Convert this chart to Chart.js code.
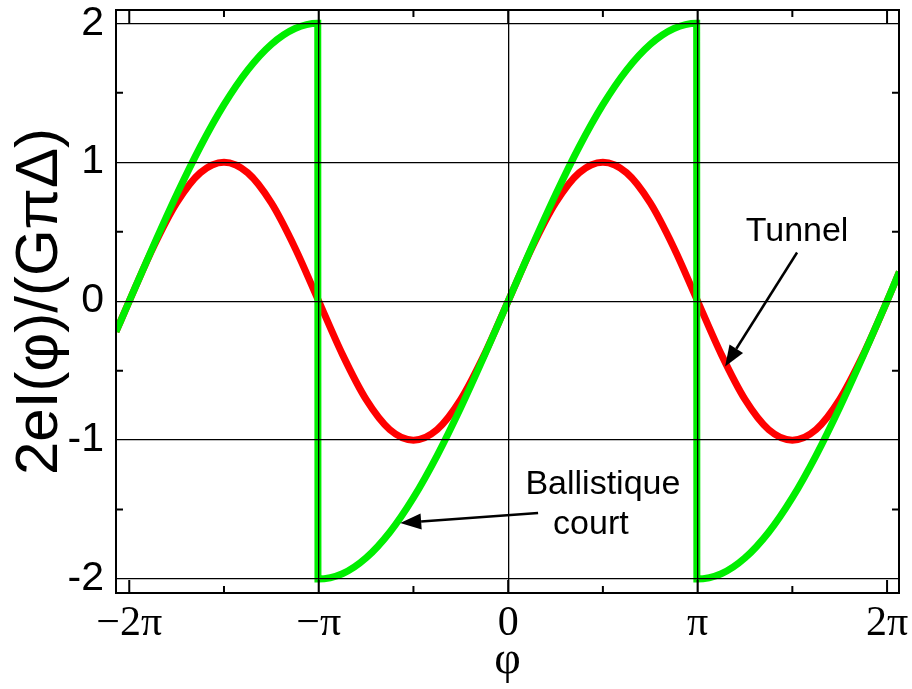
<!DOCTYPE html>
<html>
<head>
<meta charset="utf-8">
<script src="https://cdn.jsdelivr.net/npm/chart.js@4.4.0/dist/chart.umd.min.js"></script>
<style>
body { margin: 0; background: #fff; }
#chart-parent { width: 912px; height: 689px; }
</style>
</head>
<body>
<div id="chart-parent"><canvas id="chart"></canvas></div>
<script>
// phase is given in units of pi
var tunnelPhi = [-2.07, -2, -1.875, -1.75, -1.625, -1.5, -1.375, -1.25, -1.125, -1,
	-0.875, -0.75, -0.625, -0.5, -0.375, -0.25, -0.125, 0,
	0.125, 0.25, 0.375, 0.5, 0.625, 0.75, 0.875, 1,
	1.125, 1.25, 1.375, 1.5, 1.625, 1.75, 1.875, 2, 2.065];
var tunnelCurrent = [-0.22, 0, 0.383, 0.707, 0.924, 1, 0.924, 0.707, 0.383, 0,
	-0.383, -0.707, -0.924, -1, -0.924, -0.707, -0.383, 0,
	0.383, 0.707, 0.924, 1, 0.924, 0.707, 0.383, 0,
	-0.383, -0.707, -0.924, -1, -0.924, -0.707, -0.383, 0, 0.21];

var ballisticPhi = [-2.07, -2, -1.875, -1.75, -1.625, -1.5, -1.375, -1.25, -1.125, -1.005,
	-1.004, -0.875, -0.75, -0.625, -0.5, -0.375, -0.25, -0.125, 0,
	0.125, 0.25, 0.375, 0.5, 0.625, 0.75, 0.875, 0.995,
	0.996, 1.125, 1.25, 1.375, 1.5, 1.625, 1.75, 1.875, 2, 2.065];
var ballisticCurrent = [-0.22, 0, 0.39, 0.765, 1.111, 1.414, 1.663, 1.848, 1.962, 2,
	-2, -1.962, -1.848, -1.663, -1.414, -1.111, -0.765, -0.39, 0,
	0.39, 0.765, 1.111, 1.414, 1.663, 1.848, 1.962, 2,
	-2, -1.962, -1.848, -1.663, -1.414, -1.111, -0.765, -0.39, 0, 0.21];

var xTickValues = [-2, -1, 0, 1, 2];
var xTickLabels = ['\u22122\u03c0', '\u2212\u03c0', '0', '\u03c0', '2\u03c0'];
var xGridValues = [-1, 0, 1];
var xMinorTicks = [-1.5, -0.5, 0.5, 1.5];
var yTickValues = [-2, -1, 0, 1, 2];
var yTickLabels = ['-2', '-1', '0', '1', '2'];
var yMinorTicks = [-1.5, -0.5, 0.5, 1.5];

var notes = [
	{lines: ['Tunnel'], x: 1.525, y: 0.5, from: [1.525, 0.35], to: [1.145, -0.47]},
	{lines: ['Ballistique', 'court'], x: 0.5, y: -1.32, from: [0.158, -1.525], to: [-0.57, -1.597]}
];

var SANS = '"Liberation Sans", Arial, sans-serif';
var SERIF = '"Liberation Serif", "Times New Roman", serif';

function toPoints(xs, ys) {
	var pts = [];
	for (var i = 0; i < xs.length; i++)
		pts.push({x: xs[i], y: ys[i]});
	return pts;
}

function drawArrow(ctx, x1, y1, x2, y2) {
	var ang = Math.atan2(y2 - y1, x2 - x1);
	var len = 21, half = 8;
	var bx = x2 - len * Math.cos(ang), by = y2 - len * Math.sin(ang);
	ctx.beginPath();
	ctx.moveTo(x1, y1);
	ctx.lineTo(bx, by);
	ctx.stroke();
	ctx.beginPath();
	ctx.moveTo(x2, y2);
	ctx.lineTo(bx + half * Math.sin(ang), by - half * Math.cos(ang));
	ctx.lineTo(bx - half * Math.sin(ang), by + half * Math.cos(ang));
	ctx.closePath();
	ctx.fill();
}

var frameAndNotes = {
	id: 'frameAndNotes',
	afterDraw: function(chart) {
		var ctx = chart.ctx, a = chart.chartArea;
		var xs = chart.scales.x, ys = chart.scales.y;
		ctx.save();
		ctx.strokeStyle = '#000';
		ctx.fillStyle = '#000';
		ctx.lineWidth = 2;
		ctx.beginPath();
		xTickValues.forEach(function(v) {
			var px = xs.getPixelForValue(v);
			ctx.moveTo(px, a.top); ctx.lineTo(px, a.top + 13);
			ctx.moveTo(px, a.bottom); ctx.lineTo(px, a.bottom - 13);
		});
		xMinorTicks.forEach(function(v) {
			var px = xs.getPixelForValue(v);
			ctx.moveTo(px, a.top); ctx.lineTo(px, a.top + 7);
			ctx.moveTo(px, a.bottom); ctx.lineTo(px, a.bottom - 7);
		});
		yMinorTicks.forEach(function(v) {
			var py = ys.getPixelForValue(v);
			ctx.moveTo(a.left, py); ctx.lineTo(a.left + 7, py);
			ctx.moveTo(a.right, py); ctx.lineTo(a.right - 7, py);
		});
		ctx.stroke();
		ctx.strokeRect(a.left, a.top, a.right - a.left, a.bottom - a.top);

		ctx.font = '34px ' + SANS;
		ctx.textAlign = 'center';
		ctx.textBaseline = 'middle';
		ctx.lineWidth = 2.5;
		notes.forEach(function(n) {
			var px = xs.getPixelForValue(n.x), py = ys.getPixelForValue(n.y);
			n.lines.forEach(function(t, i) {
				ctx.fillText(t, px - i * 12, py + i * 40);
			});
			drawArrow(ctx, xs.getPixelForValue(n.from[0]), ys.getPixelForValue(n.from[1]),
				xs.getPixelForValue(n.to[0]), ys.getPixelForValue(n.to[1]));
		});
		ctx.restore();
	}
};

new Chart(document.getElementById('chart'), {
	type: 'line',
	data: {
		datasets: [{
			label: 'Ballistique court',
			data: toPoints(ballisticPhi, ballisticCurrent),
			borderColor: '#00ee00',
			borderWidth: 7,
			pointRadius: 0,
			cubicInterpolationMode: 'monotone'
		}, {
			label: 'Tunnel',
			data: toPoints(tunnelPhi, tunnelCurrent),
			borderColor: '#ff0000',
			borderWidth: 7,
			pointRadius: 0,
			cubicInterpolationMode: 'monotone'
		}]
	},
	options: {
		responsive: true,
		maintainAspectRatio: false,
		animation: false,
		layout: {padding: {top: 10, right: 13, left: 0, bottom: 0}},
		plugins: {legend: {display: false}, tooltip: {enabled: false}},
		scales: {
			x: {
				type: 'linear',
				min: -2.07,
				max: 2.063,
				afterBuildTicks: function(scale) {
					scale.ticks = xTickValues.map(function(v) { return {value: v}; });
				},
				afterFit: function(scale) {
					scale.height = 96;
					scale.paddingLeft = 0;
					scale.paddingRight = 0;
				},
				ticks: {
					autoSkip: false,
					maxRotation: 0,
					padding: 6,
					color: '#000',
					font: {family: SERIF, size: 42},
					callback: function(value) {
						return xTickLabels[xTickValues.indexOf(value)];
					}
				},
				grid: {
					z: 1,
					drawTicks: false,
					lineWidth: 1.3,
					color: function(c) {
						return (c.tick && xGridValues.indexOf(c.tick.value) >= 0) ? '#000' : 'rgba(0,0,0,0)';
					}
				},
				border: {display: false},
				title: {
					display: true,
					text: '\u03c6',
					color: '#000',
					font: {family: SERIF, size: 46},
					padding: {top: 0, bottom: 0}
				}
			},
			y: {
				type: 'linear',
				min: -2.1,
				max: 2.095,
				afterBuildTicks: function(scale) {
					scale.ticks = yTickValues.map(function(v) { return {value: v}; });
				},
				afterFit: function(scale) {
					scale.width = 116;
					scale.paddingTop = 0;
					scale.paddingBottom = 0;
				},
				ticks: {
					padding: 12,
					color: '#000',
					font: {family: SANS, size: 41},
					callback: function(value) {
						return yTickLabels[yTickValues.indexOf(value)];
					}
				},
				grid: {
					z: 1,
					drawTicks: false,
					lineWidth: 1.3,
					color: '#000'
				},
				border: {display: false},
				title: {
					display: true,
					text: '2eI(\u03c6)/(G\u03c0\u0394)',
					color: '#000',
					font: {family: SANS, size: 60},
					padding: {top: 4, bottom: 0}
				}
			}
		}
	},
	plugins: [frameAndNotes]
});
</script>
</body>
</html>
